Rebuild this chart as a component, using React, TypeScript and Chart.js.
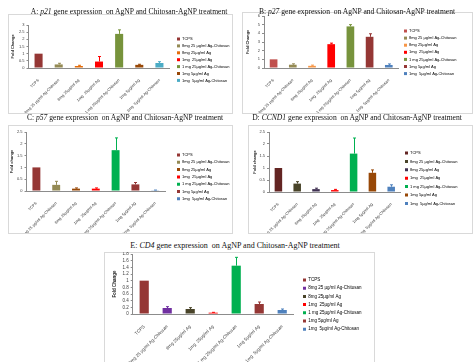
import React, { useEffect, useRef } from 'react';
import { Chart, registerables } from 'chart.js';
Chart.register(...registerables);

const categories = [
  'TCPS',
  '8mg 25 µg/ml Ag-Chitosan',
  '8mg 25µg/ml Ag',
  '1mg  25µg/ml Ag',
  '1 mg 25µg/ml Ag-Chitosan',
  '1mg 5µg/ml Ag',
  '1mg  5µg/ml Ag-Chitosan',
];

const p21Values = [1.0, 0.25, 0.14, 0.45, 2.38, 0.22, 0.35];
const p21Errors = [0, 0.08, 0.05, 0.35, 0.28, 0.04, 0.09];
const p21Colors = ['#953735', '#948A54', '#E46C0A', '#FF0000', '#77933C', '#984807', '#4BACC6'];

const p27Values = [1.0, 0.38, 0.25, 2.75, 4.8, 3.6, 0.35];
const p27Errors = [0, 0.1, 0.08, 0.12, 0.2, 0.35, 0.12];
const p27Colors = ['#C0504D', '#948A54', '#F79646', '#FF0000', '#77933C', '#953735', '#4F81BD'];

const p57Values = [1.0, 0.26, 0.1, 0.1, 1.73, 0.28, 0.03];
const p57Errors = [0, 0.15, 0.03, 0.03, 0.52, 0.08, 0.01];
const p57Colors = ['#953735', '#948A54', '#984807', '#FF0000', '#00B050', '#953735', '#4F81BD'];

const ccnd1Values = [1.0, 0.35, 0.12, 0.08, 1.6, 0.8, 0.22];
const ccnd1Errors = [0, 0.08, 0.04, 0.03, 0.65, 0.12, 0.08];
const ccnd1Colors = ['#632523', '#494429', '#403152', '#FF0000', '#00B050', '#984807', '#4F81BD'];

const cd4Values = [1.0, 0.18, 0.15, 0.04, 1.45, 0.3, 0.12];
const cd4Errors = [0, 0.04, 0.04, 0.01, 0.25, 0.06, 0.03];
const cd4Colors = ['#953735', '#7030A0', '#494429', '#FF0000', '#00B050', '#953735', '#4F81BD'];

const yMaxes = [3, 6, 2.5, 2.5, 1.8];
const ySteps = [0.5, 1, 0.5, 0.5, 0.2];

type Panel = {
  id: string; letter: string; gene: string; titleX: number; titleY: number; titleSize: number;
  frame: { x: number; y: number; w: number; h: number };
  axisX: number; plotRight: number; yTop: number; yZero: number; yMax: number; yStep: number;
  yTitle: string; yTitleX: number; legendX: number; legendY: number; legendGap: number; font: number;
  values: number[]; errors: number[]; colors: string[];
};

const panels: Panel[] = [
  { id: 'A', letter: 'A:', gene: 'p21', titleX: 129, titleY: 8, titleSize: 7.6,
    frame: { x: 8, y: 14, w: 224, h: 99 }, axisX: 28.5, plotRight: 169.5, yTop: 25, yZero: 68,
    yMax: yMaxes[0], yStep: ySteps[0], yTitle: 'Fold Change', yTitleX: 13, legendX: 177, legendY: 39, legendGap: 6.9, font: 4,
    values: p21Values, errors: p21Errors, colors: p21Colors },
  { id: 'B', letter: 'B:', gene: 'p27', titleX: 357, titleY: 8, titleSize: 7.6,
    frame: { x: 242, y: 12, w: 230, h: 101 }, axisX: 264, plotRight: 398.4, yTop: 16, yZero: 68,
    yMax: yMaxes[1], yStep: ySteps[1], yTitle: 'Fold Change', yTitleX: 248, legendX: 404, legendY: 31, legendGap: 7.1, font: 4,
    values: p27Values, errors: p27Errors, colors: p27Colors },
  { id: 'C', letter: 'C:', gene: 'p57', titleX: 125, titleY: 114, titleSize: 7.6,
    frame: { x: 8, y: 125, w: 224, h: 108 }, axisX: 26.5, plotRight: 165.1, yTop: 132, yZero: 191,
    yMax: yMaxes[2], yStep: ySteps[2], yTitle: 'Fold change', yTitleX: 12, legendX: 177, legendY: 155, legendGap: 7.3, font: 4,
    values: p57Values, errors: p57Errors, colors: p57Colors },
  { id: 'D', letter: 'D:', gene: 'CCND1', titleX: 357, titleY: 114, titleSize: 7.6,
    frame: { x: 248, y: 125, w: 224, h: 108 }, axisX: 269, plotRight: 400.6, yTop: 132, yZero: 192,
    yMax: yMaxes[3], yStep: ySteps[3], yTitle: 'Fold change', yTitleX: 255, legendX: 405, legendY: 153, legendGap: 8.4, font: 4,
    values: ccnd1Values, errors: ccnd1Errors, colors: ccnd1Colors },
  { id: 'E', letter: 'E:', gene: 'CD4', titleX: 235, titleY: 242, titleSize: 8,
    frame: { x: 104, y: 252, w: 270, h: 110 }, axisX: 132.7, plotRight: 293.7, yTop: 254, yZero: 314,
    yMax: yMaxes[4], yStep: ySteps[4], yTitle: 'Fold Change', yTitleX: 115, legendX: 303, legendY: 280, legendGap: 8.2, font: 4.5,
    values: cd4Values, errors: cd4Errors, colors: cd4Colors },
];

const errorBarsPlugin = {
  id: 'errorBars',
  afterDatasetsDraw(chart: any, _args: any, opts: any) {
    const meta = chart.getDatasetMeta(0);
    const ys = chart.scales.y;
    const ctx = chart.ctx;
    const data = chart.data.datasets[0].data as number[];
    const colors = chart.data.datasets[0].backgroundColor as string[];
    ctx.save();
    ctx.lineWidth = 1;
    meta.data.forEach((bar: any, i: number) => {
      const e = opts.errors[i];
      if (!e) return;
      const top = ys.getPixelForValue(data[i] + e);
      const base = ys.getPixelForValue(data[i]);
      const x = Math.round(bar.x) + 0.5;
      ctx.strokeStyle = colors[i];
      ctx.beginPath();
      ctx.moveTo(x, base);
      ctx.lineTo(x, top);
      ctx.moveTo(x - 1.5, top);
      ctx.lineTo(x + 1.5, top);
      ctx.stroke();
    });
    ctx.restore();
  },
};

const geomPlugin = {
  id: 'geom',
  afterLayout(chart: any, _args: any, g: any) {
    const xs = chart.scales.x;
    const ys = chart.scales.y;
    xs.left = g.axisX; xs.right = g.plotRight; xs.width = g.plotRight - g.axisX;
    xs.top = g.yZero; xs.bottom = chart.height; xs.height = chart.height - g.yZero;
    xs.configure();
    const yl = g.yTitleX - g.font * 0.6;
    ys.left = yl; ys.right = g.axisX; ys.width = g.axisX - yl;
    ys.top = g.yTop; ys.bottom = g.yZero; ys.height = g.yZero - g.yTop;
    ys.configure();
    const lg = chart.legend;
    const pad = g.legendGap - g.font;
    lg.left = g.legendX - pad; lg.right = chart.width; lg.width = lg.right - lg.left;
    lg.top = g.legendY - pad - g.font / 2; lg.bottom = chart.height + 50; lg.height = lg.bottom - lg.top;
  },
};

const fmt = (v: any) => String(Math.round(Number(v) * 10) / 10);

function ChartPanel({ p }: { p: Panel }) {
  const ref = useRef<HTMLCanvasElement>(null);
  useEffect(() => {
    const f = p.frame;
    const fam = "'Liberation Sans', Arial, sans-serif";
    const chart = new Chart(ref.current as HTMLCanvasElement, {
      type: 'bar',
      data: {
        labels: categories,
        datasets: [{
          data: p.values, backgroundColor: p.colors, borderWidth: 0,
          barPercentage: 0.4, categoryPercentage: 1, clip: false as any,
        }],
      },
      options: {
        responsive: false, animation: false, devicePixelRatio: 1,
        events: [],
        scales: {
          x: {
            grid: { display: false },
            border: { color: '#8c8c8c', width: 1 },
            ticks: { font: { size: p.font, family: fam }, color: '#404040', minRotation: 45, maxRotation: 45, autoSkip: false, padding: 2 },
          },
          y: {
            min: 0, max: p.yMax,
            ticks: { stepSize: p.yStep, autoSkip: false, callback: fmt, font: { size: p.font, family: fam }, color: '#404040', padding: 2 },
            grid: { display: true, drawOnChartArea: false, drawTicks: true, tickLength: 2, color: '#8c8c8c' },
            border: { color: '#8c8c8c', width: 1 },
            title: { display: true, text: p.yTitle, font: { size: p.font, family: fam, weight: 'bold' }, color: '#262626', padding: 0 },
          },
        },
        plugins: {
          legend: {
            position: 'right', align: 'start',
            labels: {
              boxWidth: 3, boxHeight: 3, padding: p.legendGap - p.font,
              font: { size: p.font, family: fam }, color: '#404040',
              generateLabels: () => categories.map((c, i) => ({
                text: c, fillStyle: p.colors[i], strokeStyle: p.colors[i], lineWidth: 0, hidden: false, index: i, datasetIndex: 0,
              })),
            },
          },
          tooltip: { enabled: false },
          title: { display: false },
          errorBars: { errors: p.errors },
          geom: {
            axisX: p.axisX - f.x, plotRight: p.plotRight - f.x, yTop: p.yTop - f.y, yZero: p.yZero - f.y,
            yTitleX: p.yTitleX - f.x, legendX: p.legendX - f.x, legendY: p.legendY - f.y, legendGap: p.legendGap, font: p.font,
          },
        } as any,
      },
      plugins: [errorBarsPlugin, geomPlugin],
    });
    return () => chart.destroy();
  }, [p]);
  const f = p.frame;
  return (
    <>
      <div style={{ position: 'absolute', left: f.x, top: f.y, width: f.w - 1, height: f.h - 1, border: '1px solid #d9d9d9', borderBottomColor: p.id === 'E' ? 'transparent' : '#d9d9d9' }} />
      <canvas ref={ref} width={f.w} height={f.h} style={{ position: 'absolute', left: f.x, top: f.y, width: f.w, height: f.h }} />
      <div style={{ position: 'absolute', left: p.titleX - 160, width: 320, top: p.titleY, textAlign: 'center', whiteSpace: 'pre', fontFamily: "'Liberation Serif', 'Times New Roman', serif", fontSize: p.titleSize, lineHeight: 1, color: '#111' }}>
        {p.letter + ' '}<i>{p.gene}</i>{' gene expression  on AgNP and Chitosan-AgNP treatment'}
      </div>
    </>
  );
}

export default function App() {
  return (
    <div style={{ position: 'absolute', left: 0, top: 0, width: 474, height: 362, background: '#fff', overflow: 'hidden' }}>
      {panels.map((p) => <ChartPanel key={p.id} p={p} />)}
    </div>
  );
}
